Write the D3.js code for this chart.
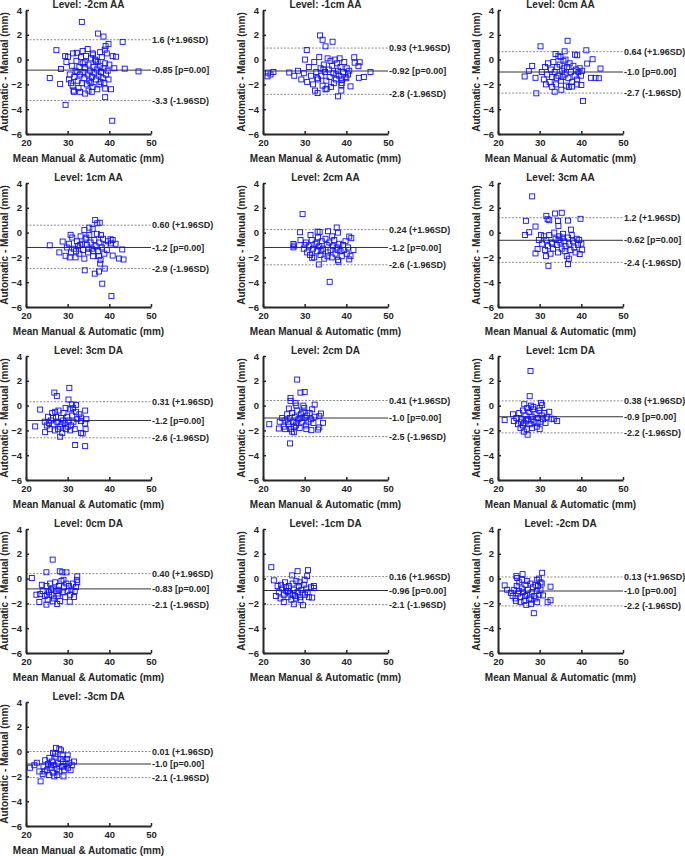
<!DOCTYPE html>
<html>
<head>
<meta charset="utf-8">
<script src="https://cdn.jsdelivr.net/npm/d3@7"></script>
<style>
  body { margin: 0; background: #fff; }
  text { font-family: "Liberation Sans", Arial, sans-serif; font-weight: bold; fill: #262626; }
</style>
</head>
<body>
<div id="graf"></div>
<script>
// I. Datos
titulos = ['Level: -2cm AA', 'Level: -1cm AA', 'Level: 0cm AA',
           'Level: 1cm AA', 'Level: 2cm AA', 'Level: 3cm AA',
           'Level: 3cm DA', 'Level: 2cm DA', 'Level: 1cm DA',
           'Level: 0cm DA', 'Level: -1cm DA', 'Level: -2cm DA',
           'Level: -3cm DA']

media    = [-0.85, -0.92, -1.0, -1.2, -1.2, -0.62, -1.2, -1.0, -0.9, -0.83, -0.96, -1.0, -1.0]
superior = [1.6, 0.93, 0.64, 0.60, 0.24, 1.2, 0.31, 0.41, 0.38, 0.40, 0.16, 0.13, 0.01]
inferior = [-3.3, -2.8, -2.7, -2.9, -2.6, -2.4, -2.6, -2.5, -2.2, -2.1, -2.1, -2.2, -2.1]

mediaTxt    = ['-0.85', '-0.92', '-1.0', '-1.2', '-1.2', '-0.62', '-1.2', '-1.0', '-0.9', '-0.83', '-0.96', '-1.0', '-1.0']
superiorTxt = ['1.6', '0.93', '0.64', '0.60', '0.24', '1.2', '0.31', '0.41', '0.38', '0.40', '0.16', '0.13', '0.01']
inferiorTxt = ['-3.3', '-2.8', '-2.7', '-2.9', '-2.6', '-2.4', '-2.6', '-2.5', '-2.2', '-2.1', '-2.1', '-2.2', '-2.1']

ticksX = [20, 30, 40, 50]
ticksY = [-6, -4, -2, 0, 2, 4]

ptsM2AA = [[33.4,3.04],[37.3,2.1],[38.6,1.86],[43.2,1.43],[39.8,1.27],[39.1,1.09],[27.3,0.76],[29.4,0.28],[30.1,0.23],[31.3,0.5],[32.2,0.55],[33.6,0.7],[34.8,0.85],[36.1,0.4],[37.8,0.6],[38.9,0.8],[40.8,0.28],[41.6,0.23],[29.7,-0.2],[28.4,-0.76],[41.2,-0.7],[43.7,-0.73],[47.0,-0.95],[25.7,-1.48],[28.2,-1.96],[40.4,-2.39],[39.0,-2.34],[39.0,-3.03],[29.5,-3.65],[40.7,-4.93],[31.5,-2.6],[34.2,-2.74],[35.8,-2.6],[37.1,-2.4],
  [30.5,-1.2],[30.8,-1.9],[31.0,-0.5],[31.2,-2.1],[31.6,-1.4],[31.9,-0.9],[32.1,-0.1],[32.4,-1.7],[32.6,-2.3],[32.8,-0.6],[33.0,-1.2],[33.2,0.2],[33.4,-1.9],[33.6,-0.3],[33.8,-1.0],[34.0,-1.5],[34.2,-0.7],[34.4,0.3],[34.6,-2.0],[34.8,-1.2],[35.0,-0.4],[35.2,-1.7],[35.4,-0.9],[35.6,0.1],[35.8,-1.4],[36.0,-2.2],[36.2,-0.6],[36.4,-1.1],[36.6,0.0],[36.8,-1.6],[37.0,-0.8],[37.2,-0.2],[37.4,-1.3],[37.6,-2.0],[37.8,-0.5],[38.0,-1.0],[38.2,0.2],[38.4,-1.5],[38.6,-0.7],[38.8,-1.9],[39.0,-0.3],[39.2,-1.2],[39.4,0.5],[39.6,-0.9],[39.8,-1.6],[40.0,-0.4],[31.4,-2.5],[33.0,-2.6],[35.0,-2.5],[36.8,-0.1],[34.1,-0.2],[32.3,-1.0],[30.3,-1.6],[37.9,-1.8],[35.5,-1.9],[36.0,0.5]]

ptsM1AA = [[33.7,1.95],[34.3,1.6],[36.7,1.44],[35.0,1.07],[30.5,0.77],[30.1,0.0],[41.9,0.19],[43.2,-0.21],[42.9,-0.53],[21.2,-1.05],[21.1,-1.35],[21.8,-1.2],[22.5,-1.0],[26.3,-1.04],[32.5,-2.5],[33.1,-2.7],[35.3,-2.35],[38.0,-2.96],[38.8,-2.5],[38.8,-2.05],[41.0,-2.16],[43.0,-1.47],[44.2,-1.4],[45.8,-1.0],[42.0,-0.25],
  [27.5,-1.3],[28.4,-0.9],[29.2,-1.6],[29.8,-1.1],[30.6,-1.8],[31.0,-0.6],[31.5,-1.3],[32.0,-2.0],[32.3,-0.2],[32.8,-1.0],[33.2,-1.6],[33.5,0.2],[33.8,-0.7],[34.0,-1.3],[34.3,-2.1],[34.6,-0.4],[34.9,-1.0],[35.2,-1.7],[35.5,0.1],[35.8,-0.8],[36.0,-1.4],[36.3,-2.2],[36.6,-0.5],[36.9,-1.1],[37.2,0.0],[37.5,-1.6],[37.8,-0.3],[38.0,-0.9],[38.3,-1.3],[38.6,-0.6],[38.9,-1.9],[39.2,-1.0],[39.5,-0.2],[39.8,-1.4],[40.1,-0.7],[40.4,-1.2],[40.7,-0.9],[37.0,-1.9],[35.0,-2.4],[33.0,-1.5],[39.0,-1.6],[36.2,-0.1],[34.5,-0.8],[38.4,0.1],[40.0,-1.5],[37.6,-1.2]]

pts0AA = [[30.2,1.07],[36.7,1.52],[36.0,0.67],[41.2,0.75],[42.7,0.03],[41.4,-0.32],[44.6,-0.72],[28.2,-0.51],[27.4,-0.91],[26.4,-1.36],[29.0,-1.47],[29.2,-2.72],[33.6,-2.59],[35.2,-2.43],[40.4,-3.33],[42.3,-1.47],[43.4,-1.47],[44.2,-1.5],[37.8,-2.17],[40.0,-2.05],[33.8,0.45],[34.5,0.3],[38.5,0.4],[39.0,0.35],[35.0,0.2],
  [30.5,-1.0],[31.0,-1.6],[31.3,-0.6],[31.8,-1.2],[32.0,-0.3],[32.4,-1.8],[32.7,-0.8],[33.0,-1.4],[33.3,-0.2],[33.6,-1.0],[33.9,-2.0],[34.2,-0.6],[34.5,-1.3],[34.8,-0.4],[35.1,-1.7],[35.4,-0.9],[35.7,-0.1],[36.0,-1.2],[36.3,-2.1],[36.6,-0.6],[36.9,-1.5],[37.2,-0.3],[37.5,-1.0],[37.8,-1.8],[38.1,-0.5],[38.4,-1.3],[38.7,-0.8],[39.0,-1.6],[39.3,-1.0],[39.6,-0.7],[39.9,-1.3],[40.2,-0.9],[34.0,-1.5],[35.5,-1.4],[37.0,-2.2],[33.0,-2.2],[36.2,0.0],[38.9,-2.0],[31.5,-2.0],[35.9,-0.7]]

pts1AA = [[36.6,1.01],[37.7,0.8],[37.1,0.75],[25.7,-1.03],[28.0,-1.6],[29.5,-1.87],[28.8,-0.72],[30.7,-0.18],[34.1,-3.04],[36.5,-3.31],[37.5,-3.14],[38.3,-4.12],[40.5,-5.12],[38.9,-2.9],[37.8,-2.5],[40.8,-1.85],[42.3,-2.09],[43.4,-2.17],[43.1,-1.36],[40.4,-0.87],[40.8,-0.6],[40.3,-0.54],[35.2,0.4],[36.0,0.3],[34.0,0.2],[41.5,-0.9],
  [29.8,-1.2],[30.3,-0.9],[30.8,-1.6],[31.1,-0.4],[31.5,-1.3],[31.9,-2.0],[32.2,-0.7],[32.5,-1.1],[32.8,-1.7],[33.1,-0.3],[33.4,-0.9],[33.7,-1.4],[34.0,-2.1],[34.3,-0.5],[34.6,-1.0],[34.9,-1.6],[35.2,-0.2],[35.5,-0.8],[35.8,-1.3],[36.1,-1.9],[36.4,-0.6],[36.7,-1.1],[37.0,-0.1],[37.3,-1.5],[37.6,-0.8],[37.9,-2.2],[38.2,-1.2],[38.5,-0.5],[38.8,-1.7],[39.1,-1.0],[39.4,-1.4],[39.7,-0.7],[35.0,-1.3],[36.2,-1.5],[33.0,-1.0],[34.5,-0.4],[37.5,-1.9],[32.0,-1.5],[38.0,-0.2],[30.5,-2.0]]

pts2AA = [[29.5,1.49],[28.9,0.03],[31.4,-0.19],[33.1,0.08],[33.6,0.05],[35.6,0.11],[37.7,0.41],[38.0,0.0],[27.3,-0.92],[27.3,-1.19],[27.5,-1.05],[33.4,-2.57],[36.0,-3.97],[38.1,-2.35],[40.7,-2.16],[41.0,-1.9],[40.7,-0.32],[41.2,-0.45],[41.7,-1.4],[31.8,-2.03],[29.0,-0.6],[30.0,-1.0],
  [29.8,-1.3],[30.3,-0.8],[30.6,-1.6],[31.0,-1.1],[31.3,-1.8],[31.7,-0.6],[32.0,-1.3],[32.3,-2.0],[32.6,-0.9],[32.9,-1.5],[33.2,-0.4],[33.5,-1.1],[33.8,-1.8],[34.1,-0.7],[34.4,-1.3],[34.7,-2.1],[35.0,-0.5],[35.3,-1.0],[35.6,-1.6],[35.9,-0.8],[36.2,-1.4],[36.5,-2.0],[36.8,-1.1],[37.1,-0.6],[37.4,-1.7],[37.7,-1.2],[38.0,-2.2],[38.3,-0.9],[38.6,-1.5],[38.9,-1.9],[39.2,-1.0],[39.5,-1.4],[39.8,-0.7],[40.1,-1.7],[40.4,-1.2],[34.0,-1.5],[35.5,-1.9],[33.0,-0.8],[36.6,-0.3],[37.9,-1.4]]

pts3AA = [[28.2,2.92],[26.7,0.95],[29.0,0.49],[27.5,0.03],[26.5,-0.19],[31.6,1.35],[31.9,1.08],[32.3,1.0],[33.7,1.54],[35.3,1.6],[34.4,0.95],[34.5,0.54],[36.8,0.97],[39.8,1.11],[37.5,0.24],[29.0,-1.68],[32.1,-2.68],[36.8,-2.54],[29.5,-1.32],[39.6,-1.73],[40.2,-1.38],[40.0,-0.9],[30.3,-0.2],[29.8,-0.6],
  [30.6,-0.9],[31.0,-0.3],[31.3,-1.4],[31.6,-0.6],[32.0,-1.1],[32.3,-0.2],[32.6,-1.7],[32.9,-0.8],[33.2,-1.3],[33.5,0.0],[33.8,-0.5],[34.1,-1.0],[34.4,-1.6],[34.7,-0.3],[35.0,-0.8],[35.3,-1.3],[35.6,-0.1],[35.9,-0.7],[36.2,-1.1],[36.5,-1.9],[36.8,-0.4],[37.1,-0.9],[37.4,-1.4],[37.7,-0.2],[38.0,-0.7],[38.3,-1.2],[38.6,-1.6],[38.9,-0.5],[39.2,-1.0],[39.5,-0.6],[33.0,-0.9],[34.5,-0.6],[36.0,-1.5],[37.0,-2.1],[31.5,-1.9],[35.5,-0.4]]

pts3DA = [[30.4,1.43],[26.8,1.05],[27.4,0.78],[30.2,0.49],[31.0,0.09],[32.0,0.06],[23.4,-0.32],[22.2,-1.68],[24.6,-2.14],[28.2,-2.51],[31.8,-3.18],[34.2,-3.27],[33.2,-2.2],[33.6,-2.25],[34.2,-0.4],[34.2,-1.44],[34.5,-1.1],[33.2,-0.96],[33.2,-1.25],[32.8,-0.7],[34.3,-1.9],
  [24.5,-1.3],[25.0,-1.6],[25.3,-0.9],[25.7,-1.9],[26.0,-1.2],[26.3,-0.6],[26.6,-1.5],[26.9,-2.0],[27.2,-0.9],[27.5,-1.3],[27.8,-0.4],[28.1,-1.7],[28.4,-1.0],[28.7,-2.2],[29.0,-0.6],[29.3,-1.4],[29.6,-1.9],[29.9,-0.9],[30.2,-1.2],[30.5,-0.3],[30.8,-1.6],[31.1,-0.8],[31.4,-1.3],[31.7,-1.9],[32.0,-0.5],[32.3,-1.1],[27.0,-0.5],[28.5,-1.5],[29.5,-0.2],[26.5,-1.0],[30.0,-1.7],[27.7,-1.9],[31.3,-0.2],[25.5,-1.4],[28.9,-1.2],[30.6,-2.0]]

pts2DA = [[28.2,2.1],[29.0,1.05],[30.0,1.1],[26.6,0.62],[26.6,0.38],[27.8,0.2],[28.0,0.0],[29.7,0.0],[32.4,0.08],[26.2,-0.24],[21.5,-1.5],[23.8,-1.85],[26.5,-3.05],[27.0,-2.1],[27.4,-2.15],[31.6,-1.98],[33.2,-1.93],[33.5,-1.76],[34.4,-1.39],[33.9,-0.64],[33.5,-0.85],[24.0,-1.3],
  [24.6,-1.0],[25.0,-1.7],[25.4,-1.2],[25.8,-0.7],[26.1,-1.5],[26.4,-1.0],[26.7,-1.9],[27.0,-0.6],[27.3,-1.3],[27.6,-0.9],[27.9,-1.6],[28.2,-0.4],[28.5,-1.1],[28.8,-1.8],[29.1,-0.7],[29.4,-1.3],[29.7,-0.5],[30.0,-1.0],[30.3,-1.6],[30.6,-0.8],[30.9,-1.3],[31.2,-0.6],[31.5,-1.1],[31.8,-0.3],[32.1,-1.4],[32.4,-0.9],[28.0,-1.4],[29.0,-1.0],[26.0,-1.3],[30.4,-1.9],[27.5,-1.7],[29.9,-0.2],[25.3,-1.9]]

pts1DA = [[27.8,2.79],[27.6,0.76],[30.3,0.22],[30.6,0.04],[26.3,0.11],[21.6,-1.17],[23.6,-0.7],[23.8,-1.25],[27.1,-2.35],[26.2,-2.1],[30.0,-1.9],[32.3,-0.5],[32.8,-1.05],[34.2,-1.25],[33.4,-1.1],[28.2,-1.8],[27.9,0.0],[28.5,-0.1],
  [24.4,-1.0],[24.8,-1.5],[25.1,-0.6],[25.4,-1.8],[25.7,-1.1],[26.0,-0.4],[26.3,-1.4],[26.6,-0.8],[26.9,-1.9],[27.2,-1.1],[27.5,-0.5],[27.8,-1.5],[28.1,-0.9],[28.4,-0.3],[28.7,-1.3],[29.0,-0.7],[29.3,-1.7],[29.6,-1.0],[29.9,-0.4],[30.2,-1.3],[30.5,-0.8],[30.8,-1.1],[31.1,-0.6],[31.4,-1.4],[31.7,-0.9],[25.5,-1.3],[26.8,-1.2],[28.0,-1.2],[29.5,-1.4],[27.0,-0.2],[26.0,-1.6],[30.0,-0.2]]

pts0DA = [[26.4,1.53],[21.4,0.05],[24.9,0.51],[28.1,0.59],[28.7,0.51],[32.3,0.18],[32.3,-0.3],[22.5,-1.3],[23.4,-1.25],[23.2,-1.89],[24.9,-2.1],[26.4,-1.83],[27.5,-2.05],[30.5,-1.86],[31.5,-1.48],[32.0,-0.68],[29.7,0.5],[23.8,-0.5],
  [24.0,-1.0],[24.5,-1.4],[24.9,-0.6],[25.2,-1.7],[25.5,-1.1],[25.8,-0.4],[26.1,-1.3],[26.4,-0.8],[26.7,-1.6],[27.0,-0.3],[27.3,-1.0],[27.6,-1.4],[27.9,-0.6],[28.2,-1.8],[28.5,-0.2],[28.8,-1.1],[29.1,-0.7],[29.4,-1.5],[29.7,-0.4],[30.0,-1.0],[30.3,-0.6],[30.6,-1.3],[30.9,-0.9],[31.3,-0.4],[31.7,-1.0],[26.0,-0.9],[27.8,-1.2],[29.0,-0.1],[25.0,-1.3],[28.0,-0.9],[32.2,-0.1]]

ptsM1DA = [[22.0,0.92],[22.6,-0.14],[27.0,0.26],[28.3,0.6],[30.8,0.68],[30.6,0.2],[25.0,-1.88],[27.4,-2.07],[29.6,-2.15],[31.8,-1.53],[32.2,-0.6],[32.2,-0.75],[23.1,-1.4],[29.0,-1.72],[23.5,-0.6],[24.3,-0.5],[31.5,-0.7],
  [23.8,-1.1],[24.2,-1.6],[24.6,-0.8],[25.0,-1.3],[25.3,-0.3],[25.6,-1.0],[25.9,-1.5],[26.2,-0.6],[26.5,-1.2],[26.8,-1.7],[27.1,-0.4],[27.4,-0.9],[27.7,-1.4],[28.0,-0.2],[28.3,-1.1],[28.6,-0.6],[28.9,-1.5],[29.2,-0.9],[29.5,-1.2],[29.8,-0.5],[30.1,-1.3],[30.4,-0.8],[30.7,-1.1],[31.0,-1.5],[26.0,-1.0],[27.3,-1.3],[28.8,-0.3],[25.5,-0.7],[27.9,-1.6],[30.0,-0.1]]

ptsM2DA = [[21.6,-0.55],[22.2,-0.9],[25.9,0.36],[24.4,0.2],[24.6,0.05],[30.6,0.47],[29.4,-0.1],[32.6,-0.65],[28.6,-2.79],[24.3,-1.8],[25.4,-1.9],[26.8,-2.12],[27.9,-2.04],[29.4,-1.9],[31.9,-1.9],[32.6,-1.75],[30.8,-1.36],[23.1,-1.15],[29.8,0.0],[30.2,-0.3],
  [23.5,-1.4],[23.9,-0.9],[24.2,-1.6],[24.5,-0.6],[24.8,-1.2],[25.1,-0.3],[25.4,-1.5],[25.7,-0.8],[26.0,-1.1],[26.3,-1.8],[26.6,-0.5],[26.9,-1.3],[27.2,-0.9],[27.5,-1.6],[27.8,-0.4],[28.1,-1.1],[28.4,-0.7],[28.7,-1.4],[29.0,-0.5],[29.3,-1.0],[29.6,-0.6],[29.9,-1.3],[30.2,-0.9],[30.5,-0.4],[25.0,-1.0],[26.5,-1.4],[28.0,-1.7],[27.0,-0.2],[29.0,-1.6],[25.8,-0.1]]

ptsM3DA = [[21.0,-1.3],[22.0,-1.1],[22.6,-0.9],[23.5,-2.4],[23.2,-1.6],[24.0,-1.8],[31.0,-1.1],[31.5,-0.8],[27.2,0.3],[28.0,0.2],[28.4,0.1],[26.5,-0.1],[30.0,-0.3],[29.0,-2.0],[26.8,-2.0],
  [24.2,-1.2],[24.6,-0.7],[25.0,-1.5],[25.3,-1.0],[25.6,-0.5],[25.9,-1.3],[26.2,-0.8],[26.5,-1.7],[26.8,-1.1],[27.1,-0.4],[27.4,-1.4],[27.7,-0.9],[28.0,-1.6],[28.3,-0.6],[28.6,-1.2],[28.9,-0.8],[29.2,-1.5],[29.5,-1.0],[29.8,-0.6],[30.1,-1.3],[30.4,-0.9],[30.7,-1.5],[25.5,-1.9],[27.5,-1.9],[27.0,-0.2],[28.8,-0.3],[26.0,-1.1],[29.0,-1.2],[24.5,-1.6]]

puntos = [ptsM2AA, ptsM1AA, pts0AA, pts1AA, pts2AA, pts3AA,
          pts3DA, pts2DA, pts1DA, pts0DA, ptsM1DA, ptsM2DA, ptsM3DA]

// II. Configuración
ancho_total = 685
alto_total = 856
colIzq = [26, 263, 498]
filaSup = [10, 183, 356, 529, 702]
ancho = 125
alto = 124
lado = 5

svg = d3.select('#graf').append('svg')
        .attr('width', ancho_total)
        .attr('height', alto_total)

x = d3.scaleLinear().domain([20, 50]).range([0, ancho])
y = d3.scaleLinear().domain([-6, 4]).range([alto, 0])

// III. render de cada panel
function render(i) {
  g = svg.append('g')
         .attr('transform', `translate(${ colIzq[i % 3] }, ${ filaSup[Math.floor(i / 3)] })`)

  // líneas de acuerdo
  lineas = [
    { v: superior[i], t: superiorTxt[i] + ' (+1.96SD)', dash: true },
    { v: media[i], t: mediaTxt[i] + ' [p=0.00]', dash: false },
    { v: inferior[i], t: inferiorTxt[i] + ' (-1.96SD)', dash: true }
  ]

  g.selectAll('line.ref')
   .data(lineas)
   .enter()
   .append('line')
   .attr('class', 'ref')
   .attr('x1', 0)
   .attr('x2', ancho)
   .attr('y1', d => y(d.v))
   .attr('y2', d => y(d.v))
   .attr('stroke', d => d.dash ? '#8c8c8c' : '#333')
   .attr('stroke-width', 1)
   .attr('stroke-dasharray', d => d.dash ? '2,1.5' : null)

  g.selectAll('text.ref')
   .data(lineas)
   .enter()
   .append('text')
   .attr('class', 'ref')
   .attr('x', ancho + 1)
   .attr('y', d => y(d.v))
   .attr('dy', '0.35em')
   .style('font-size', '9px')
   .text(d => d.t)

  // puntos
  g.selectAll('rect.pt')
   .data(puntos[i])
   .enter()
   .append('rect')
   .attr('class', 'pt')
   .attr('x', d => x(d[0]) - lado / 2)
   .attr('y', d => y(d[1]) - lado / 2)
   .attr('width', lado)
   .attr('height', lado)
   .attr('fill', 'none')
   .attr('stroke', '#1010ff')
   .attr('stroke-width', 0.9)

  // ejes
  ejeX = g.append('g')
          .attr('transform', `translate(0, ${ alto })`)
          .call(d3.axisBottom(x).tickValues(ticksX).tickSizeInner(-3).tickSizeOuter(0).tickPadding(5))
  ejeY = g.append('g')
          .call(d3.axisLeft(y).tickValues(ticksY).tickSizeInner(-3).tickSizeOuter(0).tickPadding(4))

  ;[ejeX, ejeY].forEach(e => {
    e.select('.domain').attr('stroke', '#262626').attr('stroke-width', 2)
    e.selectAll('.tick line').attr('stroke', '#262626').attr('stroke-width', 1.5)
    e.selectAll('.tick text').style('font-size', '9.5px')
  })

  // textos
  g.append('text')
   .attr('x', ancho / 2)
   .attr('y', -2)
   .attr('text-anchor', 'middle')
   .style('font-size', '10px')
   .text(titulos[i])

  g.append('text')
   .attr('x', ancho / 2)
   .attr('y', alto + 28)
   .attr('text-anchor', 'middle')
   .style('font-size', '10px')
   .text('Mean Manual & Automatic (mm)')

  g.append('text')
   .attr('transform', `translate(-18, ${ alto / 2 }) rotate(-90)`)
   .attr('text-anchor', 'middle')
   .style('font-size', '10px')
   .text('Automatic - Manual (mm)')
}

// IV. Despliegue
titulos.forEach((t, i) => render(i))
</script>
</body>
</html>
